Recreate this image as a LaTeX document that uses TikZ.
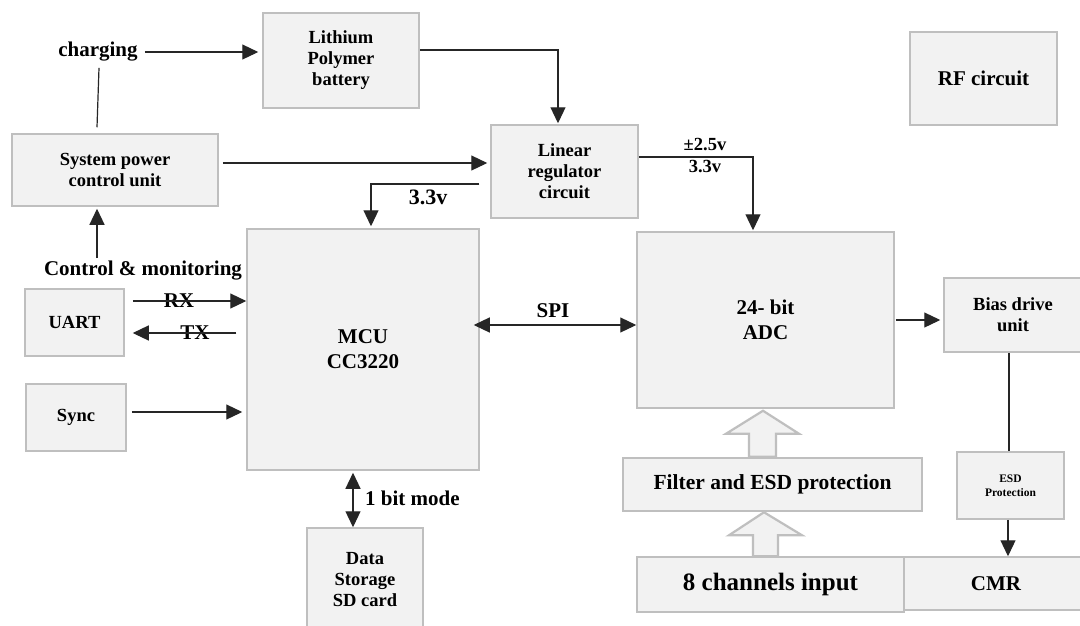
\documentclass[tikz,border=0pt]{standalone}
\usepackage{fontspec}
\setmainfont{Liberation Serif}
\usetikzlibrary{arrows.meta,calc}
\definecolor{boxfill}{HTML}{F2F2F2}
\definecolor{boxline}{HTML}{BFBFBF}
\begin{document}
\begin{tikzpicture}[x=1pt,y=-1pt,
  box/.style={draw=boxline, fill=boxfill, line width=1.5pt, align=center, inner sep=0pt,
    font=\bfseries\fontsize{18.5}{21}\selectfont},
  bigbox/.style={box, font=\bfseries\fontsize{21}{25}\selectfont},
  lbl/.style={inner sep=1pt, align=center, font=\bfseries\fontsize{21}{25}\selectfont},
  smlbl/.style={inner sep=1pt, align=center, font=\bfseries\fontsize{18.5}{21}\selectfont},
  ln/.style={line width=1.2pt, draw=black!85},
  arr/.style={ln, -{Triangle[length=16pt,width=15pt]}},
  dbl/.style={ln, {Triangle[length=16pt,width=15pt]}-{Triangle[length=16pt,width=15pt]}},
  hollow/.style={draw=boxline, fill=boxfill, line width=2.2pt, line join=miter}]
\useasboundingbox (0,0) rectangle (1080,625);
\clip (0,0) rectangle (1080,625);
\fill[white] (0,0) rectangle (1080,625);

% boxes
\node[box, minimum width=156pt, minimum height=95pt] (bat) at (341,60.5) {Lithium\\Polymer\\battery};
\node[bigbox, minimum width=147pt, minimum height=93pt] (rf) at (983.5,78.5) {RF circuit};
\node[box, minimum width=206pt, minimum height=72pt] (spc) at (115,170) {System power\\control unit};
\node[box, minimum width=147pt, minimum height=93pt] (lin) at (564.5,171.5) {Linear\\regulator\\circuit};
\node[bigbox, minimum width=232pt, minimum height=241pt] (mcu) at (363,349.5) {MCU\\CC3220};
\node[bigbox, minimum width=257pt, minimum height=176pt] (adc) at (765.5,320) {24- bit\\ADC};
\node[box, minimum width=138pt, minimum height=74pt] (bias) at (1013,315) {Bias drive\\unit};
\node[box, minimum width=99pt, minimum height=67pt] (uart) at (74.5,322.5) {UART};
\node[box, minimum width=100pt, minimum height=67pt] (sync) at (76,417.5) {Sync};
\node[box, minimum width=299pt, minimum height=53pt, font=\bfseries\fontsize{21.5}{25}\selectfont] (filt) at (772.5,484.5) {Filter and ESD protection};
\node[box, minimum width=107pt, minimum height=67pt, font=\bfseries\fontsize{11.5}{14}\selectfont] (esd) at (1010.5,485.5) {ESD\\Protection};
\node[box, minimum width=267pt, minimum height=55pt, font=\bfseries\fontsize{25}{30}\selectfont] (ch8) at (770.5,584.5) {8 channels input};
\node[bigbox, minimum width=184pt, minimum height=53pt] (cmr) at (996,583.5) {CMR};
\node[box, minimum width=116pt, minimum height=104pt] (sd) at (365,580) {Data\\Storage\\SD card};

% labels
\node[lbl] (chg) at (98,52) {charging};
\node[lbl] (ctrl) at (143,271) {Control \& monitoring};
\node[lbl] (rx) at (179,301) {RX};
\node[lbl] (tx) at (195,333) {TX};
\node[lbl] (spi) at (553,311) {SPI};
\node[lbl, font=\bfseries\fontsize{22}{25}\selectfont] (va) at (428,197) {3.3v};
\node[smlbl] (pm) at (705,145) {±2.5v};
\node[smlbl] (vb) at (705,167) {3.3v};
\node[lbl, anchor=west] (bm) at (364,498) {1 bit mode};

% connectors
\draw[arr, shorten <=6pt, shorten >=4pt] (chg.east) -- (chg.east -| bat.west);
\draw[ln] ([xshift=-18pt,yshift=6pt]spc.north) -- ([xshift=1pt,yshift=-5pt]chg.south);
\draw[arr, shorten >=1pt] ([yshift=10.5pt]bat.east) -| ([xshift=-6.5pt]lin.north);
\draw[arr, shorten <=4pt, shorten >=3pt] ([yshift=7pt]spc.east) -- ([yshift=7pt]spc.east -| lin.west);
\draw[arr, shorten >=2pt] ([xshift=-11pt,yshift=-12.5pt]lin.west) -| ([xshift=8pt]mcu.north);
\draw[arr, shorten >=1pt] ([yshift=14.5pt]lin.east) -| ([xshift=-12.5pt]adc.north);
\draw[arr, shorten <=2pt, shorten >=2pt] ([xshift=-46pt]ctrl.north) -- ([xshift=-46pt]ctrl.north |- spc.south);
\draw[arr, shorten <=8pt] ([yshift=21.5pt]uart.east) -- ([yshift=21.5pt]uart.east -| mcu.west);
\draw[arr, shorten <=10pt, shorten >=8pt] ([yshift=-10.5pt]uart.east -| mcu.west) -- ([yshift=-10.5pt]uart.east);
\draw[arr, shorten <=5pt, shorten >=4pt] ([yshift=5.5pt]sync.east) -- ([yshift=5.5pt]sync.east -| mcu.west);
\draw[dbl, shorten <=-6pt] ([yshift=24.5pt]mcu.east) -- ([yshift=24.5pt]mcu.east -| adc.west);
\draw[dbl, shorten <=2pt] ([xshift=-10pt]mcu.south) -- ([xshift=-10pt]mcu.south |- sd.north);
\draw[arr, shorten <=1pt, shorten >=3pt] (adc.east) -- (adc.east -| bias.west);
\draw[ln] ([xshift=-1.5pt]esd.north |- bias.south) -- ([xshift=-1.5pt]esd.north);
\draw[arr] ([xshift=-2.5pt]esd.south) -- ([xshift=-2.5pt]esd.south |- cmr.north);

% hollow block arrows
\draw[hollow] ($(adc.south)+(-2.5,2)$) -- ++(36,23) -- ++(-23,0) -- ++(0,23) -- ++(-27,0) -- ++(0,-23) -- ++(-23,0) -- cycle;
\draw[hollow] ($(filt.north)+(-8.5,55)$) -- ++(38,23) -- ++(-24,0) -- ++(0,21) -- ++(-25,0) -- ++(0,-21) -- ++(-24,0) -- cycle;
\end{tikzpicture}
\end{document}
